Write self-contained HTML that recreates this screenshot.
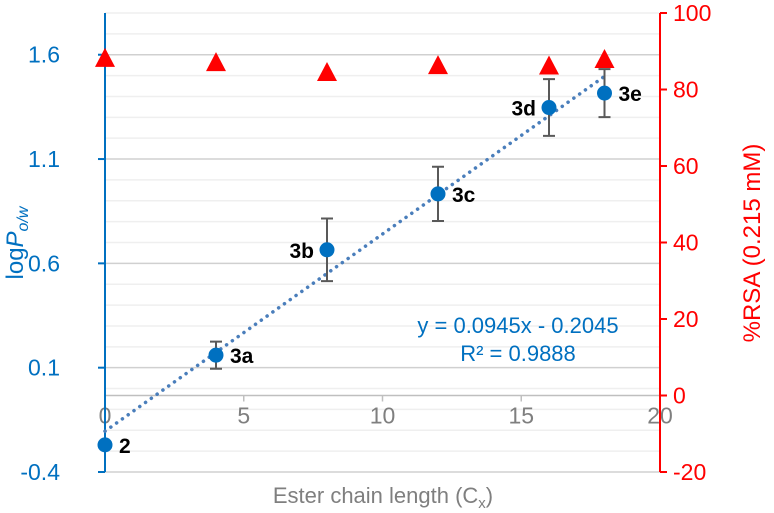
<!DOCTYPE html>
<html><head><meta charset="utf-8"><style>
body{margin:0;background:#fff;}
svg{display:block;font-family:"Liberation Sans",Arial,sans-serif;}
</style></head><body>
<svg id="c" width="774" height="513"></svg>
<script>
const xVals=[0,4,8,12,16,18];
const labels=["2","3a","3b","3c","3d","3e"];
const logP=[-0.27,0.16,0.665,0.933,1.347,1.416];
const logPErr=[0,0.065,0.15,0.13,0.136,0.115];
const rsa=[88,86.9,84.3,86.1,86,87.7];
const leftTicks=[-0.4,0.1,0.6,1.1,1.6];
const rightTicks=[-20,0,20,40,60,80,100];
const xTicks=[0,5,10,15,20];
const slope=0.0945, intercept=-0.2045;

const svg=document.getElementById('c');const NS='http://www.w3.org/2000/svg';
const X0=105,X1=660,T=13,B=472;
const sx=v=>X0+(v-0)/20*(X1-X0);
const sy=v=>B-(v+0.4)/2.2*(B-T);
const sr=v=>B-(v+20)/120*(B-T);
function el(tag,a,txt){const e=document.createElementNS(NS,tag);for(const k in a)e.setAttribute(k,a[k]);if(txt!=null)e.textContent=txt;svg.appendChild(e);return e;}
for(let i=0;i<=22;i++){const v=-0.4+i*0.1;const major=(i%5===0);
 const g=el('line',{x1:X0,x2:X1,y1:sy(v),y2:sy(v),stroke:major?'#d0d0d0':'#efefef','stroke-width':1.5});
 }
let a=el('line',{x1:X0,x2:X1,y1:sr(0),y2:sr(0),stroke:'#bfbfbf','stroke-width':1.5});

xTicks.forEach(t=>{let l=el('line',{x1:sx(t),x2:sx(t),y1:sr(0),y2:sr(0)+6,stroke:'#bfbfbf','stroke-width':1.5});
 
 let tx=el('text',{x:sx(t),y:sr(0)+28,'text-anchor':'middle','font-size':23,fill:'#7f7f7f'},t);
 });
a=el('line',{x1:X0,x2:X0,y1:T,y2:B,stroke:'#0070c0','stroke-width':2});

leftTicks.forEach(t=>{let l=el('line',{x1:X0-7,x2:X0,y1:sy(t),y2:sy(t),stroke:'#0070c0','stroke-width':2});
 
 let tx=el('text',{x:60,y:sy(t)+8,'text-anchor':'end','font-size':23,fill:'#0070c0'},t.toFixed(1));
 });
a=el('line',{x1:X1,x2:X1,y1:T,y2:B,stroke:'#ff0000','stroke-width':2});

rightTicks.forEach(t=>{let l=el('line',{x1:X1,x2:X1+7,y1:sr(t),y2:sr(t),stroke:'#ff0000','stroke-width':2});
 
 let tx=el('text',{x:673,y:sr(t)+8,'text-anchor':'start','font-size':23,fill:'#ff0000'},t);
 });
a=el('line',{x1:sx(0),y1:sy(intercept),x2:sx(18),y2:sy(slope*18+intercept),stroke:'#4a7ebb','stroke-width':3.5,'stroke-dasharray':'0.1 7','stroke-linecap':'round'});

xVals.forEach((x,i)=>{const cx=sx(x),cy=sy(logP[i]);
 if(logPErr[i]>0){const y1=sy(logP[i]+logPErr[i]),y2=sy(logP[i]-logPErr[i]);
  let g=el('path',{d:`M${cx},${y1}V${y2}M${cx-6},${y1}H${cx+6}M${cx-6},${y2}H${cx+6}`,stroke:'#595959','stroke-width':2,fill:'none'});
  }
 let c=el('circle',{cx:cx,cy:cy,r:7.5,fill:'#0070c0'});
 
 const left=(labels[i]==='3b'||labels[i]==='3d');
 let t=el('text',{x:left?cx-13:cx+14,y:cy+8,'text-anchor':left?'end':'start','font-size':21,'font-weight':'bold',fill:'#000'},labels[i]);
 });
xVals.forEach((x,i)=>{const cx=sx(x),cy=sr(rsa[i]);
 let p=el('polygon',{points:`${cx},${cy-11} ${cx-10},${cy+8} ${cx+10},${cy+8}`,fill:'#ff0000'});
 });
let e=el('text',{x:518,y:333,'text-anchor':'middle','font-size':22,fill:'#0070c0'},'y = 0.0945x - 0.2045');

e=el('text',{x:518,y:361,'text-anchor':'middle','font-size':22,fill:'#0070c0'},'R² = 0.9888');

e=el('text',{x:383,y:503,'text-anchor':'middle','font-size':22,fill:'#7f7f7f'});
e.innerHTML='Ester chain length (C<tspan font-size="15" dy="5">x</tspan><tspan dy="-5">)</tspan>';

e=el('text',{x:0,y:0,'text-anchor':'middle','font-size':24,fill:'#0070c0',transform:'translate(23,243) rotate(-90)'});
e.innerHTML='log<tspan font-style="italic">P</tspan><tspan font-style="italic" font-size="16" dy="5">o/w</tspan>';

e=el('text',{x:0,y:0,'text-anchor':'middle','font-size':24,fill:'#ff0000',transform:'translate(760,243) rotate(-90)'},'%RSA (0.215 mM)');

</script>
</body></html>
